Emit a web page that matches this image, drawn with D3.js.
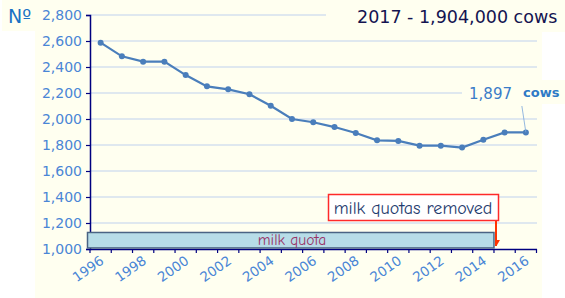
<!DOCTYPE html>
<html>
<head>
<meta charset="utf-8">
<script src="https://cdn.jsdelivr.net/npm/d3@7"></script>
<style>
  html, body { margin: 0; padding: 0; background: #ffffff; }
  svg { display: block; }
</style>
</head>
<body>
<svg id="chart" width="565" height="298"></svg>
<script>
// ---- data ----
const years = [1996, 1997, 1998, 1999, 2000, 2001, 2002, 2003, 2004, 2005, 2006,
               2007, 2008, 2009, 2010, 2011, 2012, 2013, 2014, 2015, 2016];
const cows = [2587, 2482, 2441, 2441, 2338, 2251, 2228, 2190, 2102, 2000, 1975,
              1938, 1892, 1836, 1831, 1795, 1795, 1780, 1841, 1897, 1897];
const yTicks = [1000, 1200, 1400, 1600, 1800, 2000, 2200, 2400, 2600, 2800];
const xLabelYears = [1996, 1998, 2000, 2002, 2004, 2006, 2008, 2010, 2012, 2014, 2016];
const quotaYears = [1996, 2015];      // quota period until removal in 2015
const quotaBand = [1008, 1127];       // vertical extent of the quota bar (value units)
const titleText = "2017 - 1,904,000 cows";
const lastLabel = "1,897";
const lastUnit = "cows";
const quotaLabel = "milk quota";
const removedLabel = "milk quotas removed";
const yAxisTitle = "Nº";

// ---- layout ----
const svg = d3.select("#chart");
const cream = "#fffff0";
const blueLabel = "#4a86d6";
const navy = "#000080";
const lineBlue = "#4a7ebb";
const comic = "'Comic Sans MS', 'Comic Neue', 'DejaVu Sans', sans-serif";

const x = d3.scaleBand().domain(years).range([90, 536.5]).padding(0);
const y = d3.scaleLinear().domain([1000, 2800]).range([249, 15]);
const cx = d => x(d) + x.bandwidth() / 2;

// backgrounds
svg.append("rect").attr("x", 35).attr("y", 0).attr("width", 507).attr("height", 298).attr("fill", cream);
svg.append("rect").attr("x", 2).attr("y", 0).attr("width", 34).attr("height", 31).attr("fill", cream);

// gridlines
svg.append("g").selectAll("line").data(yTicks.filter(d => d > 1000)).join("line")
  .attr("x1", 90).attr("x2", 537)
  .attr("y1", d => y(d)).attr("y2", d => y(d))
  .attr("stroke", "#d5e1ef").attr("stroke-width", 1.5);

// y axis
const yAxis = d3.axisLeft(y).tickValues(yTicks).tickFormat(d3.format(",")).tickSize(4).tickPadding(4);
const gy = svg.append("g").attr("transform", "translate(90,0)").call(yAxis);
gy.select(".domain").attr("stroke", navy).attr("stroke-width", 1.5);
gy.selectAll(".tick line").attr("stroke", navy).attr("stroke-width", 1.2);
gy.selectAll(".tick text").attr("fill", blueLabel)
  .style("font-family", "'DejaVu Sans', Verdana, sans-serif").style("font-size", "14px");

// x axis
const xAxis = d3.axisBottom(x).tickValues([]).tickSize(0);
const gx = svg.append("g").attr("transform", "translate(0,249)").call(xAxis);
gx.select(".domain").attr("stroke", navy).attr("stroke-width", 1.5);
// ticks at category boundaries
const boundaries = years.map(d => x(d)).concat([x(years[years.length - 1]) + x.bandwidth()]);
gx.selectAll(".bnd").data(boundaries).join("line").attr("class", "bnd")
  .attr("x1", d => d).attr("x2", d => d).attr("y1", 0).attr("y2", 4)
  .attr("stroke", navy).attr("stroke-width", 1.2);
gx.selectAll(".xl").data(xLabelYears).join("text").attr("class", "xl")
  .attr("transform", d => `translate(${cx(d) + 1.5},${10}) rotate(-35)`)
  .attr("text-anchor", "end").attr("dy", "0.35em")
  .attr("fill", blueLabel)
  .style("font-family", "'DejaVu Sans', Verdana, sans-serif").style("font-size", "13.5px")
  .text(d => d);

// quota bar
svg.append("rect")
  .attr("x", x(quotaYears[0]) - 2.5)
  .attr("y", y(quotaBand[1]))
  .attr("width", x(quotaYears[1]) - x(quotaYears[0]) + 2.5)
  .attr("height", y(quotaBand[0]) - y(quotaBand[1]))
  .attr("fill", "#b7dde8").attr("stroke", "#4a6484").attr("stroke-width", 1.5);
svg.append("text")
  .attr("x", (x(quotaYears[0]) + x(quotaYears[1])) / 2 + 0)
  .attr("y", y((quotaBand[0] + quotaBand[1]) / 2) + 5)
  .attr("text-anchor", "middle").attr("fill", "#993366")
  .style("font-family", comic).style("font-size", "15.5px")
  .text(quotaLabel);

// removal box + arrow
const arrowX = x(quotaYears[1]) + 2;
svg.append("line")
  .attr("x1", arrowX).attr("x2", arrowX)
  .attr("y1", 220.5).attr("y2", 246)
  .attr("stroke", "#ff3300").attr("stroke-width", 2);
svg.append("path").attr("d", `M${arrowX - 1},240 L${arrowX + 4},240 L${arrowX + 0.5},246 Z`).attr("fill", "#ff3300");
svg.append("rect").attr("x", 328.5).attr("y", 194.5).attr("width", 170).attr("height", 26)
  .attr("fill", "#ffffff").attr("stroke", "#ff2a2a").attr("stroke-width", 1.5);
svg.append("text").attr("x", 413).attr("y", 213.5)
  .attr("text-anchor", "middle").attr("fill", "#1f3c6e")
  .style("font-family", comic).style("font-size", "18px")
  .text(removedLabel);

// line + markers
const line = d3.line().x((d, i) => cx(years[i])).y(d => y(d));
svg.append("path").datum(cows).attr("d", line)
  .attr("fill", "none").attr("stroke", lineBlue).attr("stroke-width", 2.2);
svg.append("g").selectAll("circle").data(cows).join("circle")
  .attr("cx", (d, i) => cx(years[i])).attr("cy", d => y(d)).attr("r", 3)
  .attr("fill", lineBlue);

// last value annotation
const lastI = years.length - 1;
svg.append("rect").attr("x", 462).attr("y", 80).attr("width", 103).attr("height", 24).attr("fill", cream);
svg.append("line")
  .attr("x1", cx(years[lastI]) - 4).attr("y1", 106)
  .attr("x2", cx(years[lastI])).attr("y2", y(cows[lastI]))
  .attr("stroke", "#7aa6da").attr("stroke-width", 0.8);
svg.append("text").attr("x", 512).attr("y", 99).attr("text-anchor", "end")
  .attr("fill", "#3a7cc8").style("font-family", "'DejaVu Sans', Verdana, sans-serif").style("font-size", "15px")
  .text(lastLabel);
svg.append("text").attr("x", 523).attr("y", 97)
  .attr("fill", "#2e7ac6").style("font-family", "'DejaVu Sans', Verdana, sans-serif").style("font-size", "13px")
  .style("font-weight", "bold")
  .text(lastUnit);

// title box
svg.append("rect").attr("x", 326).attr("y", 0).attr("width", 239).attr("height", 32).attr("fill", cream);
svg.append("text").attr("x", 357).attr("y", 23)
  .attr("fill", "#141450").style("font-family", "'DejaVu Sans', Verdana, sans-serif").style("font-size", "17.5px")
  .text(titleText);

// y axis title
svg.append("text").attr("x", 8).attr("y", 23)
  .attr("fill", "#1a72c4").style("font-family", "'DejaVu Sans', Verdana, sans-serif").style("font-size", "19px")
  .text(yAxisTitle);
</script>
</body>
</html>
